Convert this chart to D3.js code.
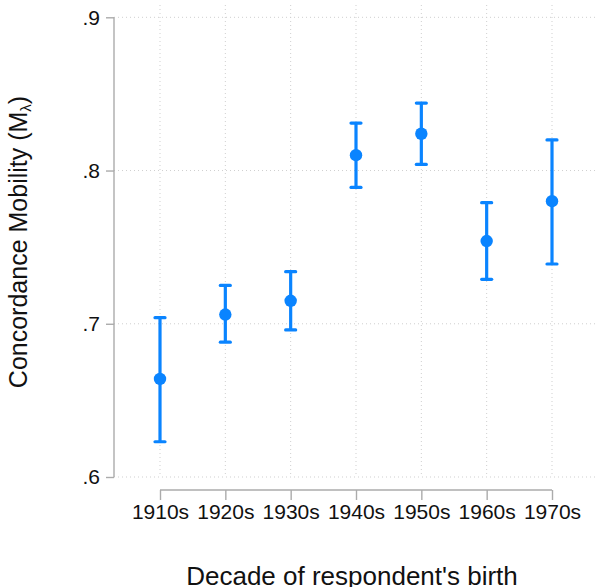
<!DOCTYPE html>
<html>
<head>
<meta charset="utf-8">
<script src="https://cdn.jsdelivr.net/npm/d3@7"></script>
<style>
  html, body { margin: 0; padding: 0; background: #fff; }
  svg { display: block; font-family: "Liberation Sans", Arial, sans-serif; }
</style>
</head>
<body>
<svg id="chart" width="600" height="587"></svg>
<script>
// Birth-decade cohorts and their concordance mobility estimates with 95% bounds
const decades = ["1910s", "1920s", "1930s", "1940s", "1950s", "1960s", "1970s"];
const estimate = [0.664, 0.706, 0.715, 0.810, 0.824, 0.754, 0.780];
const lower    = [0.623, 0.688, 0.696, 0.789, 0.804, 0.729, 0.739];
const upper    = [0.704, 0.725, 0.734, 0.831, 0.844, 0.779, 0.820];
const yTicks   = [0.6, 0.7, 0.8, 0.9];

const svg = d3.select("#chart");
const blue = "#0a84ff";
const axisGray = "#ababab";
const gridGray = "#cfcfcf";

const plot = { left: 114, right: 598, top: 5, bottom: 477 };

const x = d3.scalePoint()
  .domain(decades)
  .range([160, 552]);

const y = d3.scaleLinear()
  .domain([0.6, 0.9])
  .range([plot.bottom, 17.3]);

const fmt = v => d3.format(".1f")(v).replace(/^0/, "");

// dotted grid
const grid = svg.append("g");
grid.selectAll("line.h").data(yTicks).join("line")
  .attr("x1", plot.left).attr("x2", plot.right)
  .attr("y1", d => y(d)).attr("y2", d => y(d))
  .attr("stroke", gridGray).attr("stroke-width", 1)
  .attr("stroke-dasharray", "1,3");
grid.selectAll("line.v").data(decades).join("line")
  .attr("x1", d => x(d)).attr("x2", d => x(d))
  .attr("y1", plot.top).attr("y2", plot.bottom)
  .attr("stroke", gridGray).attr("stroke-width", 1)
  .attr("stroke-dasharray", "1,3");

// y axis
const yAxis = svg.append("g")
  .attr("transform", `translate(${plot.left},0)`)
  .call(d3.axisLeft(y).tickValues(yTicks).tickFormat(fmt).tickSize(8).tickPadding(6));
yAxis.select(".domain").attr("stroke", axisGray).attr("stroke-width", 1.4)
  .attr("d", `M0,${y(0.9)}V${y(0.6)}`);
yAxis.selectAll(".tick line").attr("stroke", axisGray).attr("stroke-width", 1.4);
yAxis.selectAll(".tick text")
  .attr("font-size", 21).attr("fill", "#111")
  .attr("font-family", "Liberation Sans, Arial, sans-serif");

// x axis
const xAxis = svg.append("g")
  .attr("transform", "translate(0,490)")
  .call(d3.axisBottom(x).tickSize(10).tickPadding(4));
xAxis.select(".domain").attr("stroke", axisGray).attr("stroke-width", 1.4)
  .attr("d", `M${x(decades[0])},0H${x(decades[decades.length - 1])}`);
xAxis.selectAll(".tick line").attr("stroke", axisGray).attr("stroke-width", 1.4);
xAxis.selectAll(".tick text")
  .attr("font-size", 21).attr("fill", "#111")
  .attr("font-family", "Liberation Sans, Arial, sans-serif");

// error bars with caps, then point estimates
const rows = decades.map((d, i) => ({ d, est: estimate[i], lo: lower[i], hi: upper[i] }));
const bars = svg.append("g");
bars.selectAll("line.bar").data(rows).join("line")
  .attr("x1", r => x(r.d)).attr("x2", r => x(r.d))
  .attr("y1", r => y(r.lo)).attr("y2", r => y(r.hi))
  .attr("stroke", blue).attr("stroke-width", 3.2);
bars.selectAll("line.capHi").data(rows).join("line")
  .attr("x1", r => x(r.d) - 5).attr("x2", r => x(r.d) + 5)
  .attr("y1", r => y(r.hi)).attr("y2", r => y(r.hi))
  .attr("stroke", blue).attr("stroke-width", 3.2).attr("stroke-linecap", "round");
bars.selectAll("line.capLo").data(rows).join("line")
  .attr("x1", r => x(r.d) - 5).attr("x2", r => x(r.d) + 5)
  .attr("y1", r => y(r.lo)).attr("y2", r => y(r.lo))
  .attr("stroke", blue).attr("stroke-width", 3.2).attr("stroke-linecap", "round");
svg.append("g").selectAll("circle").data(rows).join("circle")
  .attr("cx", r => x(r.d)).attr("cy", r => y(r.est))
  .attr("r", 6.2).attr("fill", blue);

// axis titles
svg.append("text")
  .attr("x", 352).attr("y", 585)
  .attr("text-anchor", "middle")
  .attr("font-size", 26).attr("fill", "#111")
  .text("Decade of respondent's birth");

const yt = svg.append("text")
  .attr("transform", "translate(27,242) rotate(-90)")
  .attr("text-anchor", "middle")
  .attr("font-size", 25).attr("fill", "#111");
yt.append("tspan").text("Concordance Mobility (M");
yt.append("tspan").attr("font-size", 15).attr("dy", 4).text("λ");
yt.append("tspan").attr("dy", -4).text(")");
</script>
</body>
</html>
